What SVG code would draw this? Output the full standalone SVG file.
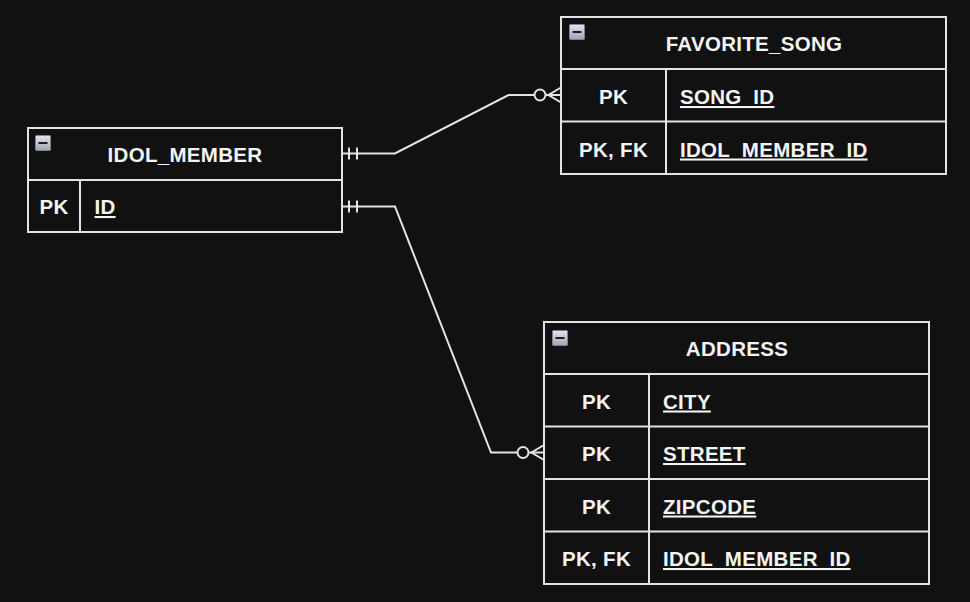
<svg xmlns="http://www.w3.org/2000/svg" width="970" height="602" viewBox="0 0 970 602">
<defs>
<linearGradient id="ig" x1="0" y1="0" x2="0" y2="1">
<stop offset="0" stop-color="#e4e6ee"/>
<stop offset="1" stop-color="#9ea3b3"/>
</linearGradient>
<g id="icon">
<rect x="0.5" y="0.5" width="15" height="15" rx="1" fill="url(#ig)" stroke="#7d8294" stroke-width="1"/>
<rect x="3.5" y="7" width="9" height="2" fill="#1e1e1e"/>
</g>
</defs>
<style>
.box{fill:#111111;stroke:#e4e4e4;stroke-width:2}
.ln{stroke:#e4e4e4;stroke-width:2;fill:none}
.t{font-family:"Liberation Sans",Arial,Helvetica,sans-serif;font-weight:bold;font-size:20.5px;letter-spacing:0.3px;fill:#f4f4f4}
.c{text-anchor:middle}
.u{text-decoration:underline}
.conn{stroke:#e4e4e4;stroke-width:2;fill:none}
</style>
<rect x="0" y="0" width="970" height="602" fill="#111111"/>

<g id="idol_member">
<rect class="box" x="28" y="128" width="314" height="104"/>
<line class="ln" x1="28" y1="180" x2="342" y2="180"/>
<line class="ln" x1="80" y1="180" x2="80" y2="232"/>
<use href="#icon" x="35" y="135"/>
<text class="t c" x="185" y="161.5">IDOL_MEMBER</text>
<text class="t c" x="54" y="214">PK</text>
<text class="t u" x="94.5" y="214">ID</text>
</g>

<g id="favorite_song">
<rect class="box" x="561" y="17" width="385" height="157"/>
<line class="ln" x1="561" y1="69" x2="946" y2="69"/>
<line class="ln" x1="561" y1="121.5" x2="946" y2="121.5"/>
<line class="ln" x1="666" y1="69" x2="666" y2="174"/>
<use href="#icon" x="569" y="24"/>
<text class="t c" x="754" y="51">FAVORITE_SONG</text>
<text class="t c" x="613.5" y="104">PK</text>
<text class="t u" x="680" y="104">SONG_ID</text>
<text class="t c" x="613.5" y="156.5">PK, FK</text>
<text class="t u" x="680" y="156.5">IDOL_MEMBER_ID</text>
</g>

<g id="address">
<rect class="box" x="544" y="322" width="385" height="262"/>
<line class="ln" x1="544" y1="374" x2="929" y2="374"/>
<line class="ln" x1="544" y1="426.5" x2="929" y2="426.5"/>
<line class="ln" x1="544" y1="479" x2="929" y2="479"/>
<line class="ln" x1="544" y1="531.5" x2="929" y2="531.5"/>
<line class="ln" x1="649" y1="374" x2="649" y2="584"/>
<use href="#icon" x="552" y="330"/>
<text class="t c" x="737" y="356">ADDRESS</text>
<text class="t c" x="596.5" y="408.5">PK</text>
<text class="t u" x="663" y="408.5">CITY</text>
<text class="t c" x="596.5" y="461">PK</text>
<text class="t u" x="663" y="461">STREET</text>
<text class="t c" x="596.5" y="513.5">PK</text>
<text class="t u" x="663" y="513.5">ZIPCODE</text>
<text class="t c" x="596.5" y="566">PK, FK</text>
<text class="t u" x="663" y="566">IDOL_MEMBER_ID</text>
</g>

<g id="connectors">
<path class="conn" d="M342 153.5 H395 L508.5 95 H561"/>
<line class="conn" x1="349" y1="147.5" x2="349" y2="159.5"/>
<line class="conn" x1="357" y1="147.5" x2="357" y2="159.5"/>
<circle cx="540" cy="95" r="5.5" fill="#111111" stroke="#e4e4e4" stroke-width="2"/>
<path class="conn" d="M561 87.5 L548.5 95 L561 102.5"/>

<path class="conn" d="M342 206.5 H395 L491 452.5 H544"/>
<line class="conn" x1="349" y1="200.5" x2="349" y2="212.5"/>
<line class="conn" x1="357" y1="200.5" x2="357" y2="212.5"/>
<circle cx="523" cy="452.5" r="5.5" fill="#111111" stroke="#e4e4e4" stroke-width="2"/>
<path class="conn" d="M544 445 L531.5 452.5 L544 460"/>
</g>
</svg>
